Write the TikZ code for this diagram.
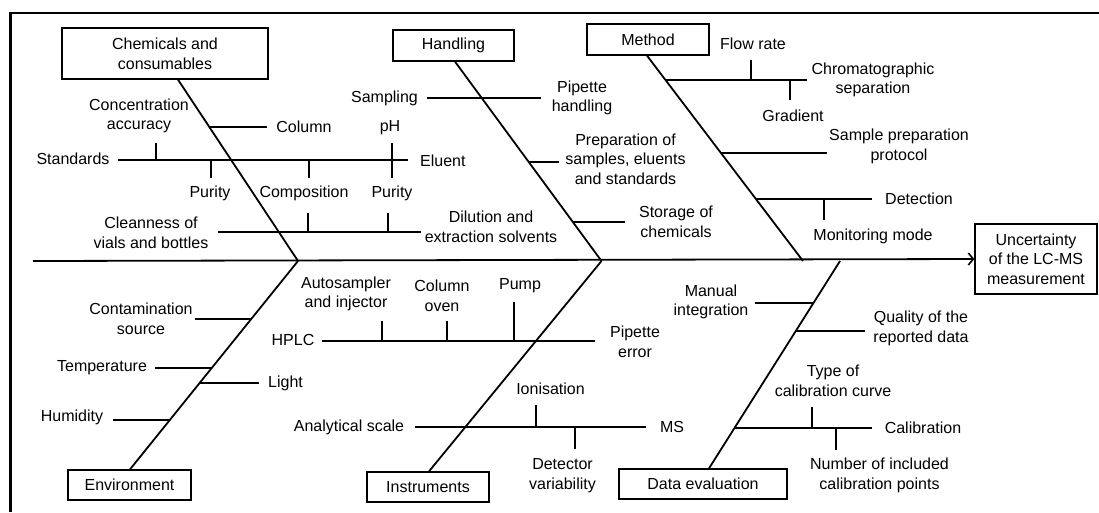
\documentclass[tikz,border=0pt]{standalone}
\usepackage{fontspec}
\setmainfont{Liberation Sans}
\usetikzlibrary{arrows.meta}
\begin{document}
\begin{tikzpicture}[x=1pt,y=-1pt,
  every node/.style={font=\fontsize{16}{19.6}\selectfont, inner sep=0pt, align=center},
  catbox/.style={draw, line width=1.3pt, inner sep=0pt},
  bone/.style={line width=1.8pt},
  twig/.style={line width=1.6pt},
  frameline/.style={line width=2.4pt}]
\useasboundingbox (0,0) rectangle (1099,512);
% frame (cropped)
\coordinate (f1) at (10.5,512);
\coordinate (f2) at (10.5,13);
\coordinate (f3) at (1099,13);
\draw[frameline] (f1) -- (f2) -- (f3);

% effect box
\node[catbox, minimum width=122pt, minimum height=70pt] (unc) at (1036,259) {Uncertainty\\of the LC-MS\\measurement};

% category boxes
\node[catbox, minimum width=206pt, minimum height=51pt] (chem) at (165,53.5) {Chemicals and\\consumables};
\node[catbox, minimum width=121pt, minimum height=31pt] (hand) at (453.5,45.5) {Handling};
\node[catbox, minimum width=122pt, minimum height=31pt] (meth) at (648,39.5) {Method};
\node[catbox, minimum width=123pt, minimum height=30pt] (env) at (129.5,485) {Environment};
\node[catbox, minimum width=122pt, minimum height=30pt] (inst) at (428,487) {Instruments};
\node[catbox, minimum width=168pt, minimum height=30pt] (data) at (703,484) {Data evaluation};

% spine
\coordinate (s0) at (33,261);
\coordinate (j1) at (298,261);
\coordinate (j2) at (601.5,261);
\coordinate (j3) at (803,261);
\coordinate (j4) at (840,261);
\draw[bone, -{Straight Barb[length=5pt,width=12pt,line width=1.6pt]}] (s0) -- (unc.west);

% main bones
\draw[bone] ([xshift=13pt]chem.south) -- (j1);
\draw[bone] ([xshift=1.5pt]hand.south) -- (j2);
\draw[bone] ([xshift=-1pt]meth.south) -- (j3);
\draw[bone] ([xshift=0.5pt]env.north) -- (j1);
\draw[bone] ([xshift=1pt]inst.north) -- (j2);
\draw[bone] ([xshift=6pt]data.north) -- (j4);

% ---------- Chemicals and consumables ----------
\node (col) at (304,127) {Column};
\node (conc) at (139,116) {Concentration\\accuracy};
\node (std) at (73,159) {Standards};
\node (pur1) at (210,193) {Purity};
\node (comp) at (304,193) {Composition};
\node (ph) at (390,128) {pH};
\node (pur2) at (392,193) {Purity};
\node[anchor=west] (elu) at (420,161) {Eluent};
\node (clean) at (151,232.5) {Cleanness of\\vials and bottles};
\node (dil) at (491,227) {Dilution and\\extraction solvents};
\draw[twig] (209.6,127) -- (267,127);
\draw[twig] (118,160) -- (408,160);
\draw[twig] (156,143) -- (156,160);
\draw[twig] (211,160) -- (211,178);
\draw[twig] (309,160) -- (309,178);
\draw[twig] (392,143) -- (392,178);
\draw[twig] (218,232) -- (421,232);
\draw[twig] (308,213) -- (308,232);
\draw[twig] (388,213) -- (388,232);

% ---------- Handling ----------
\node (samp) at (384.5,98) {Sampling};
\node (piph) at (582,98) {Pipette\\handling};
\node (prep) at (625.5,159) {Preparation of\\samples, eluents\\and standards};
\node (stor) at (676,222) {Storage of\\chemicals};
\draw[twig] (427,98) -- (541,98);
\draw[twig] (528.7,162) -- (559,162);
\draw[twig] (572.5,222) -- (625,222);

% ---------- Method ----------
\node (flow) at (753,44) {Flow rate};
\node (chrom) at (873,80) {Chromatographic\\separation};
\node (grad) at (793,116) {Gradient};
\node (spp) at (899,146.5) {Sample preparation\\protocol};
\node (det) at (919,199) {Detection};
\node (mon) at (873,236) {Monitoring mode};
\draw[twig] (666,80) -- (807,80);
\draw[twig] (751,60) -- (751,80);
\draw[twig] (790,80) -- (790,100);
\draw[twig] (721,153) -- (827,153);
\draw[twig] (756,199) -- (872,199);
\draw[twig] (824,199) -- (824,220);

% ---------- Environment ----------
\node (cont) at (141,318.5) {Contamination\\source};
\node (temp) at (102,368) {Temperature};
\node (light) at (285.5,383) {Light};
\node (hum) at (72,417) {Humidity};
\draw[twig] (195,319) -- (251,319);
\draw[twig] (155,368) -- (212,368);
\draw[twig] (200,383) -- (259,383);
\draw[twig] (113,420) -- (170,420);

% ---------- Instruments ----------
\node (hplc) at (293,340) {HPLC};
\node (auto) at (346,294) {Autosampler\\and injector};
\node (oven) at (442,296) {Column\\oven};
\node (pump) at (520,286) {Pump};
\node (piperr) at (635,342) {Pipette\\error};
\node (anal) at (349,427) {Analytical scale};
\node (ion) at (550.5,389) {Ionisation};
\node (ms) at (672,427) {MS};
\node (detv) at (562.5,475.5) {Detector\\variability};
\draw[twig] (322,341) -- (595,341);
\draw[twig] (382,321) -- (382,341);
\draw[twig] (447,321) -- (447,341);
\draw[twig] (514,302) -- (514,341);
\draw[twig] (415,427) -- (646,427);
\draw[twig] (536,405) -- (536,427);
\draw[twig] (575,427) -- (575,449);

% ---------- Data evaluation ----------
\node (man) at (711,302) {Manual\\integration};
\node (qual) at (921,328.5) {Quality of the\\reported data};
\node (type) at (833,381) {Type of\\calibration curve};
\node (cal) at (923,428) {Calibration};
\node (num) at (879.5,475.5) {Number of included\\calibration points};
\draw[twig] (755,303) -- (813.5,303);
\draw[twig] (796,331) -- (865,331);
\draw[twig] (735,428) -- (872,428);
\draw[twig] (812,407) -- (812,428);
\draw[twig] (836,428) -- (836,450);
\end{tikzpicture}
\end{document}
